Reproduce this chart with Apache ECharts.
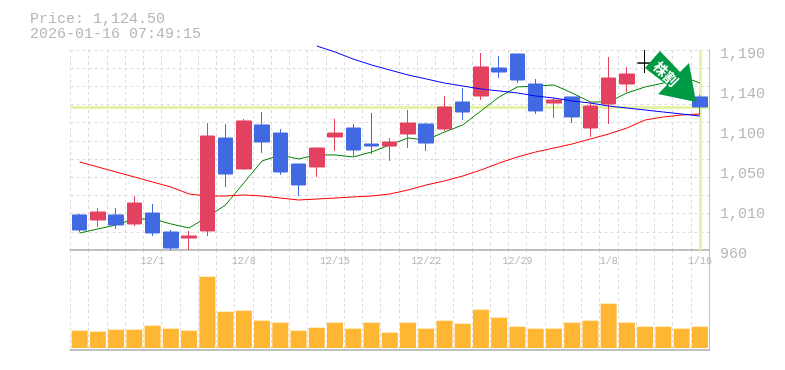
<!DOCTYPE html>
<html><head><meta charset="utf-8">
<style>html,body{margin:0;padding:0;background:#fff}#c{width:785px;height:370px}</style>
<script src="https://cdn.jsdelivr.net/npm/echarts@6/dist/echarts.min.js"></script>
</head><body><div id="c"></div>
<script>
const categories = ['11/25','11/26','11/27','11/28','12/1','12/2','12/3','12/4','12/5','12/8','12/9','12/10','12/11','12/12','12/15','12/16','12/17','12/18','12/19','12/22','12/23','12/24','12/25','12/26','12/29','12/30','1/5','1/6','1/7','1/8','1/9','1/13','1/14','1/15','1/16'];
// open, close, low, high
const candles = [
[1000.3,983,980.7,1001.4],[994.5,1003.7,986.5,1008.3],[1000.3,988.8,984.2,1008.3],[989.9,1014,987.6,1022.1],[1002.5,979.6,976.1,1012.9],
[980.7,962.3,960,983],[973.8,976.1,960,981.9],[981.9,1091.1,976.1,1106],[1088.8,1047.4,1032.5,1104.9],[1053.2,1108.4,1052,1110.7],
[1103.8,1084.2,1071.6,1118.7],[1094.5,1049.7,1046.3,1099.2],[1058.9,1034.8,1022.1,1058.9],[1055.5,1077.3,1044,1077.3],[1090,1094.5,1073.9,1110.7],
[1100.3,1075,1068.1,1104.9],[1081.9,1079.6,1070.4,1117.6],[1079.6,1084.2,1062.4,1088.8],[1093.4,1106,1077.3,1121],[1104.9,1083,1073.9,1106],
[1099.2,1124.5,1096.9,1137.1],[1130.2,1118.7,1109.5,1146.3],[1137.1,1170.5,1132.5,1186.5],[1169.3,1164.7,1157.8,1183.1],[1185.4,1155.5,1152,1185.4],
[1150.9,1119.9,1116.4,1156.7],[1129,1132.5,1111.8,1134.8],[1136,1113,1106,1136],[1100.3,1125.6,1090,1130.2],[1127.9,1157.8,1104.9,1182],
[1150.9,1162.4,1141.7,1170.5],[1175,1175,1163.5,1190],[1164.7,1176.2,1160,1178.5],[1161.3,1141.7,1135,1164],[1136,1124.5,1115.3,1138.3]];
const maShort = [979.5,984.2,988.8,995.7,995.7,990,985.3,998,1011.8,1037.1,1062.4,1069.3,1064.7,1069.3,1069.3,1067,1072.7,1080.8,1088.8,1086.5,1095.7,1103.8,1119.9,1136,1147.5,1148.6,1149.8,1140.6,1130.2,1130.2,1140.6,1147.5,1152,1160.1,1152];
const maMid = [1061.2,1055.5,1049.7,1044,1038.2,1032.5,1024.4,1022.1,1022.1,1023.3,1022.1,1019.8,1017.5,1018.6,1019.8,1021,1022.1,1024.4,1029,1034.8,1039.4,1045.1,1052,1060,1067,1072.7,1077.3,1081.9,1087.7,1093.4,1100.3,1109.5,1113,1115.3,1116.4];
const maLong = [null,null,null,null,null,null,null,null,null,null,null,null,null,1194.6,1187.7,1179.6,1172.8,1167,1161.3,1156.7,1152,1148.6,1145.2,1142.9,1140.6,1137.1,1134.8,1131.4,1129,1125.6,1123.3,1121,1118.7,1116.4,1114.1];
const volumes = [17.3,16.3,18.3,18.3,22.3,19.3,17.3,71.3,36.3,37.3,27.3,25.3,17.3,20.3,25.3,19.3,25.3,15.3,25.3,19.3,27.3,24.3,38.3,30.3,21.3,19.3,19.3,25.3,27.3,44.3,25.3,21.3,21.3,19.3,21.3];
const priceTicks = ['960','1,010','1,050','1,100','1,140','1,190'];
const lastPrice = 1124.5;
const headerLines = ['Price: 1,124.50','2026-01-16 07:49:15'];
const arrowText = '株割';

const mono = '"Liberation Mono"';
const grey = '#b6b6b6';
const gridLine = {show:true,lineStyle:{color:'#dcdcdc',type:[3,3],width:1}};
const chart = echarts.init(document.getElementById('c'),null,{renderer:'canvas'});
chart.setOption({
  animation:false,
  grid:[{left:70.5,width:638.5,top:50,height:200},{left:70.5,width:638.5,top:250,height:100},{left:70.5,width:638.5,top:54,height:200}],
  xAxis:[
    {type:'category',gridIndex:0,data:categories,boundaryGap:true,
     axisLine:{show:true,lineStyle:{color:'#c0c0c0',width:2}},axisTick:{show:false},
     splitLine:Object.assign({interval:0},gridLine),
     axisLabel:{interval:i=>(i-4)%5===0,margin:6,fontFamily:mono,fontSize:10,color:grey}},
    {type:'category',gridIndex:1,data:categories,boundaryGap:true,
     axisLine:{show:true,onZero:false,lineStyle:{color:'#c0c0c0',width:2}},axisTick:{show:false},
     splitLine:Object.assign({interval:0},gridLine),axisLabel:{show:false}},
    {type:'category',gridIndex:2,data:categories,show:false}
  ],
  yAxis:[
    {type:'value',gridIndex:0,min:960,max:1190,show:false,splitLine:{show:false}},
    {type:'value',gridIndex:0,position:'right',min:0,max:11,interval:1,
     axisLine:{show:true,lineStyle:{color:'#c0c0c0',width:1}},axisTick:{show:false},axisLabel:{show:false},splitLine:gridLine},
    {type:'value',gridIndex:2,position:'right',min:0,max:5,interval:1,
     axisLine:{show:false},axisTick:{show:false},splitLine:{show:false},
     axisLabel:{margin:11,fontFamily:mono,fontSize:15,color:grey,align:'left',verticalAlign:'middle',
       formatter:(v)=>priceTicks[v]}},
    {type:'value',gridIndex:1,min:-2,max:98,show:false,splitLine:{show:false}},
    {type:'value',gridIndex:1,position:'right',min:0,max:1,interval:1,
     axisLine:{show:true,lineStyle:{color:'#c0c0c0',width:1}},axisTick:{show:false},axisLabel:{show:false},splitLine:{show:false}}
  ],
  series:[
    {type:'line',xAxisIndex:0,yAxisIndex:0,data:[],z:1,silent:true,
     markLine:{silent:true,symbol:'none',z:1,label:{show:false},
       lineStyle:{color:'#e3f4a6',width:3,type:'solid'},
       data:[{yAxis:lastPrice},{xAxis:categories[categories.length-1]}]}},
    {type:'line',name:'short',xAxisIndex:0,yAxisIndex:0,data:maShort,z:2,showSymbol:false,clip:false,lineStyle:{color:'#008000',width:1}},
    {type:'line',name:'mid',xAxisIndex:0,yAxisIndex:0,data:maMid,z:3,showSymbol:false,clip:false,lineStyle:{color:'#ff0000',width:1}},
    {type:'candlestick',xAxisIndex:0,yAxisIndex:0,data:candles,barWidth:15,z:4,clip:false,
     itemStyle:{color:'#e2415f',color0:'#4169e1',borderColor:'#e2415f',borderColor0:'#4169e1',borderColorDoji:'#000',borderWidth:1}},
    {type:'line',name:'long',xAxisIndex:0,yAxisIndex:0,data:maLong,z:5,showSymbol:false,clip:false,lineStyle:{color:'#0000ff',width:1}},
    {type:'bar',xAxisIndex:1,yAxisIndex:3,data:volumes,barWidth:16,itemStyle:{color:'#ffb733'}}
  ],
  graphic:[
    {type:'text',left:30,top:12,style:{text:headerLines[0],fontFamily:mono,fontSize:15,fill:grey}},
    {type:'text',left:30,top:27,style:{text:headerLines[1],fontFamily:mono,fontSize:15,fill:grey}},
    {type:'polygon',z:50,shape:{points:[[645,68],[660,51],[680,72],[689,63],[696,102],[658,94],[667,85]]},style:{fill:'#009a44'}},
    {type:'text',z:51,x:666,y:74,rotation:-Math.PI/4,style:{text:arrowText,fontFamily:'"Noto Sans CJK JP"',fontSize:14,fontWeight:'bold',fill:'#fff',align:'center',verticalAlign:'middle'},originX:0,originY:0}
  ]
});
</script></body></html>
